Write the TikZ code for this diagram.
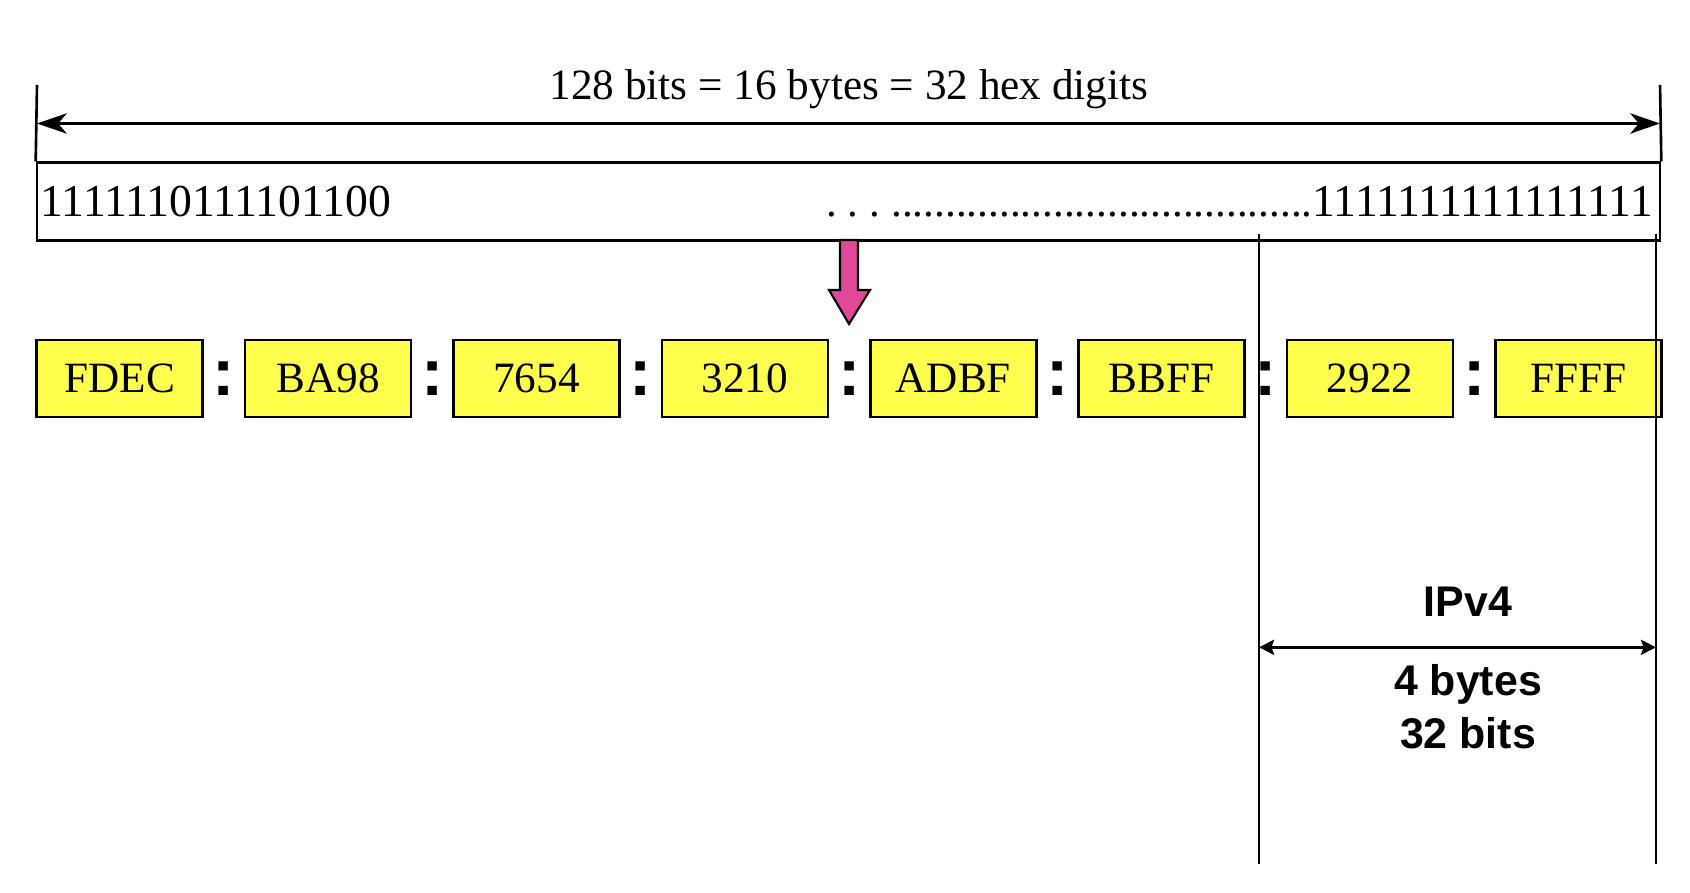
\documentclass[tikz,border=0pt]{standalone}
\usepackage{fontspec}
\usepackage{xcolor}
\setmainfont{Liberation Serif}
\setsansfont{Liberation Sans}
\usetikzlibrary{arrows.meta}
\definecolor{hexyellow}{RGB}{255,255,77}
\definecolor{downpink}{RGB}{226,72,152}

\begin{document}
\begin{tikzpicture}[
        serif/.style={font=\fontsize{12.3}{14}\selectfont},
        bits/.style={font=\fontsize{13}{15}\selectfont},
        hexbox/.style={draw=black, line width=0.75pt, fill=hexyellow, minimum width=1.66cm,
            minimum height=0.77cm, inner sep=0pt, serif},
        hexsep/.style={inner sep=0pt, font=\sffamily\bfseries\fontsize{19}{19}\selectfont},
        bold/.style={font=\sffamily\bfseries\fontsize{12.2}{15}\selectfont, align=center},
        wide/.style={line width=0.75pt, {Stealth[length=8.5pt,width=5.8pt,inset=2.5pt]}-{Stealth[length=8.5pt,width=5.8pt,inset=2.5pt]}},
        narrow/.style={line width=0.7pt, {Stealth[length=4.3pt,width=4.3pt,inset=0.8pt]}-{Stealth[length=4.3pt,width=4.3pt,inset=0.8pt]}}
    ]
        \useasboundingbox (0,0) rectangle (16.9,8.92);

        % 128-bit address
        \node[draw=black, line width=0.75pt, minimum width=16.23cm, minimum height=0.775cm, inner sep=0pt] (addr) at (8.485,6.905) {};
        \node[bits, anchor=base west, inner sep=0pt] (hibits) at (0.40,6.75) {1111110111101100};
        \node[bits, anchor=base east, inner sep=0pt] (lobits) at (16.535,6.75)
            {{\frenchspacing\fontsize{12.3}{14}\selectfont . . . .......................................}1111111111111111};

        \coordinate (ltop) at (0.37,8.07);
        \coordinate (rtop) at (16.60,8.07);
        \coordinate (lmid) at (0.37,7.685);
        \coordinate (rmid) at (16.60,7.685);
        \draw[line width=0.75pt] (ltop) -- (addr.north west);
        \draw[line width=0.75pt] (rtop) -- (addr.north east);
        \draw[wide] (lmid) -- (rmid);
        \node[serif, anchor=base] (total) at (8.49,7.92) {128 bits = 16 bytes = 32 hex digits};

        \filldraw[fill=downpink, line width=0.6pt] (8.40,6.52) -- (8.40,6.02) -- (8.29,6.02) -- (8.49,5.68)
            -- (8.70,6.02) -- (8.58,6.02) -- (8.58,6.52) -- cycle;

        % colon hexadecimal notation
        \node[hexbox] (h1) at (1.197,5.135) {FDEC};
        \node[hexbox] (h2) at (3.281,5.135) {BA98};
        \node[hexbox] (h3) at (5.365,5.135) {7654};
        \node[hexbox] (h4) at (7.449,5.135) {3210};
        \node[hexbox] (h5) at (9.533,5.135) {ADBF};
        \node[hexbox] (h6) at (11.617,5.135) {BBFF};
        \node[hexbox] (h7) at (13.701,5.135) {2922};
        \node[hexbox] (h8) at (15.785,5.135) {FFFF};
        \node[hexsep] (c1) at (2.239,5.13) {:};
        \node[hexsep] (c2) at (4.323,5.13) {:};
        \node[hexsep] (c3) at (6.407,5.13) {:};
        \node[hexsep] (c4) at (8.491,5.13) {:};
        \node[hexsep] (c5) at (10.575,5.13) {:};
        \node[hexsep] (c6) at (12.659,5.13) {:};
        \node[hexsep] (c7) at (14.743,5.13) {:};

        % last 32 bits
        \coordinate (v4top) at (12.59,6.58);
        \coordinate (v4bot) at (12.59,0.28);
        \coordinate (endtop) at (16.56,6.58);
        \coordinate (endbot) at (16.56,0.28);
        \coordinate (v4l) at (12.59,2.447);
        \coordinate (v4r) at (16.56,2.447);
        \draw[line width=0.7pt] (v4top) -- (v4bot);
        \draw[line width=0.7pt] (endtop) -- (endbot);
        \draw[narrow] (v4l) -- (v4r);
        \node[bold, anchor=base] (ipv4) at (14.68,2.753) {IPv4};
        \node[bold, anchor=base] (size) at (14.68,1.44) {4 bytes\\32 bits};
\end{tikzpicture}
\end{document}
